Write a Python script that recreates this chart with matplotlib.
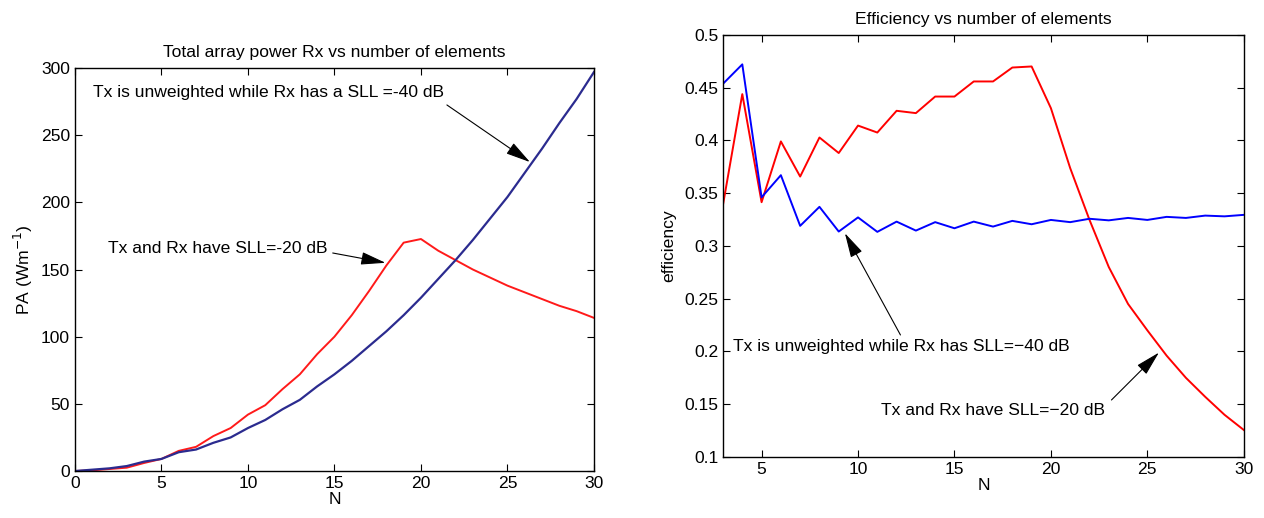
import matplotlib
matplotlib.use("Agg")
import matplotlib.pyplot as plt
from matplotlib.ticker import FormatStrFormatter, MultipleLocator

plt.rcParams['font.family'] = ['Liberation Sans', 'DejaVu Sans']

# ---- Left panel data ----
n_left = list(range(0, 31))
pa_weighted_rx = [0, 1, 2, 3.7, 7, 9, 14, 16, 21, 25, 32, 38, 46, 53, 63, 72,
                  82, 93, 104, 116, 129, 143, 157, 172, 188, 204, 222, 240,
                  259, 277, 297]
pa_both = [0, 0.5, 1.5, 2.5, 6, 9, 15, 18, 26, 32, 42, 49, 61, 72, 87, 100,
           116, 134, 153, 170, 172.7, 164, 157, 150, 144, 138, 133, 128,
           123, 119, 114]

# ---- Right panel data ----
n_right = list(range(3, 31))
eff_weighted_rx = [0.4536, 0.472, 0.346, 0.367, 0.319, 0.337, 0.3136, 0.327,
                   0.3133, 0.323, 0.3145, 0.3225, 0.3167, 0.323, 0.3183,
                   0.3237, 0.3205, 0.3246, 0.3225, 0.3257, 0.3242, 0.3265,
                   0.3246, 0.3275, 0.3265, 0.3287, 0.328, 0.3294]
eff_both = [0.339, 0.4438, 0.3414, 0.399, 0.3657, 0.4027, 0.388, 0.414,
            0.4074, 0.428, 0.4258, 0.4415, 0.4415, 0.4558, 0.4558, 0.469,
            0.470, 0.4305, 0.3737, 0.3247, 0.280, 0.245, 0.22, 0.196,
            0.175, 0.157, 0.140, 0.1256]

FS = 12.6
fig = plt.figure(figsize=(12.64, 5.18), dpi=100)

def style(ax):
    ax.tick_params(direction='in', top=True, right=True, labelsize=FS,
                   length=5, width=0.8)
    for s in ax.spines.values():
        s.set_linewidth(1.0)

arrow_kw = dict(arrowstyle='-|>,head_length=0.85,head_width=0.22',
                mutation_scale=18, lw=0.8, color='k', shrinkA=0, shrinkB=0)

# Left axes
ax1 = fig.add_axes([0.0593, 0.0907, 0.4106, 0.778])
ax1.plot(n_left, pa_both, color='#ff1a1a', lw=1.4)
ax1.plot(n_left, pa_weighted_rx, color='#2b2b8f', lw=1.6)
ax1.set_xlim(0, 30)
ax1.set_ylim(0, 300)
ax1.xaxis.set_major_locator(MultipleLocator(5))
ax1.yaxis.set_major_locator(MultipleLocator(50))
style(ax1)
ax1.set_title('Total array power Rx vs number of elements', fontsize=FS, pad=8)
ax1.set_xlabel('N', fontsize=FS, labelpad=1)
ax1.set_ylabel('PA (Wm$^{-1}$)', fontsize=FS, labelpad=4)
ax1.text(1.05, 281.5, 'Tx is unweighted while Rx has a SLL =-40 dB',
         fontsize=FS, va='center', ha='left')
ax1.annotate('', xy=(26.3, 230), xytext=(21.5, 272.5), arrowprops=arrow_kw)
ax1.text(1.9, 166, 'Tx and Rx have SLL=-20 dB', fontsize=FS, va='center',
         ha='left')
ax1.annotate('', xy=(17.95, 155), xytext=(14.9, 162.3), arrowprops=arrow_kw)

# Right axes
ax2 = fig.add_axes([0.572, 0.1178, 0.412, 0.815])
ax2.plot(n_right, eff_both, color='#ff0000', lw=1.4)
ax2.plot(n_right, eff_weighted_rx, color='#0000ff', lw=1.4)
ax2.set_xlim(3, 30)
ax2.set_ylim(0.1, 0.5)
ax2.set_xticks([5, 10, 15, 20, 25, 30])
ax2.yaxis.set_major_locator(MultipleLocator(0.05))
ax2.yaxis.set_major_formatter(FormatStrFormatter('%g'))
style(ax2)
ax2.set_title('Efficiency vs number of elements', fontsize=FS, pad=8)
ax2.set_xlabel('N', fontsize=FS, labelpad=1)
ax2.set_ylabel('efficiency', fontsize=FS, labelpad=6)
ax2.text(3.5, 0.2046, 'Tx is unweighted while Rx has SLL=\u221240 dB',
         fontsize=FS, va='center', ha='left')
ax2.annotate('', xy=(9.32, 0.312), xytext=(12.2, 0.2156), arrowprops=arrow_kw)
ax2.text(11.2, 0.1439, 'Tx and Rx have SLL=\u221220 dB', fontsize=FS,
         va='center', ha='left')
ax2.annotate('', xy=(25.6, 0.1989), xytext=(23.14, 0.154), arrowprops=arrow_kw)

fig.savefig('out.png', dpi=100, facecolor='white')
